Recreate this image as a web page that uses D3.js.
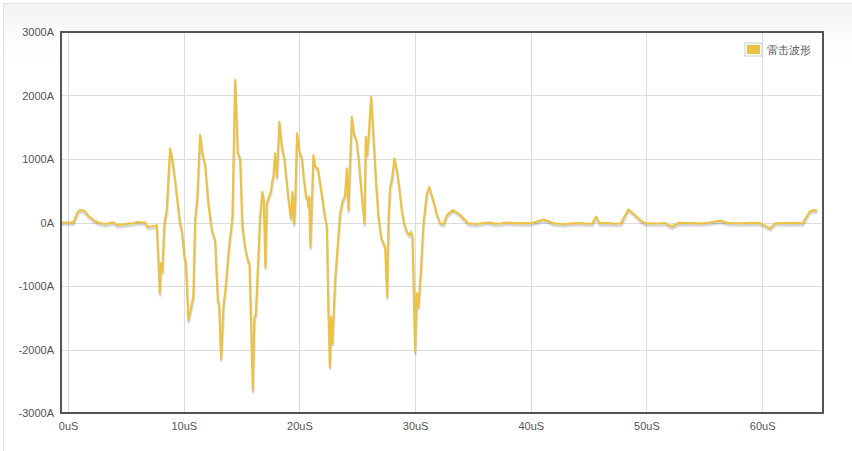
<!DOCTYPE html>
<html><head><meta charset="utf-8">
<script src="https://cdn.jsdelivr.net/npm/d3@7"></script>
<style>
html,body{margin:0;padding:0;background:#fff;width:852px;height:451px;overflow:hidden;}
#panel{position:absolute;left:3px;top:3px;width:860px;height:460px;border:1px solid #e2e2e2;background:linear-gradient(#f3f3f3 0px,#fbfbfb 30px,#ffffff 60px);}
svg{position:absolute;left:0;top:0;}
text{font-family:"Liberation Sans",Arial,sans-serif;}
</style></head>
<body><div id="panel"></div><svg id="chart" width="852" height="451"></svg>
<script>
const seriesName = "雷击波形";
const xTicks = [0,10,20,30,40,50,60];
const yTicks = [-3000,-2000,-1000,0,1000,2000,3000];
const timeUs = [-0.61,0.46,0.84,1.04,1.41,1.76,2.19,2.62,3.2,3.6,3.92,4.21,4.93,5.3,5.65,5.94,6.3,6.66,6.89,7.52,7.67,7.93,8.04,8.15,8.33,8.53,8.82,9.02,9.25,9.68,9.83,10.06,10.18,10.4,10.64,10.83,10.98,11.18,11.41,11.61,11.85,12.13,12.43,12.71,12.95,13.06,13.23,13.43,13.66,13.86,14.21,14.44,14.67,14.87,15.07,15.3,15.54,15.68,15.82,15.97,16.11,16.23,16.4,16.6,16.8,16.92,17.06,17.18,17.32,17.53,17.67,17.75,17.9,18.05,18.27,18.48,18.7,19.0,19.2,19.28,19.39,19.54,19.63,19.8,19.97,20.21,20.43,20.58,20.73,20.78,20.84,20.95,21.12,21.21,21.36,21.59,21.88,22.16,22.37,22.51,22.63,22.74,22.85,23.09,23.32,23.52,23.72,23.95,24.1,24.24,24.38,24.53,24.7,24.93,25.1,25.4,25.62,25.74,25.85,26.0,26.2,26.4,26.61,26.83,27.06,27.26,27.41,27.58,27.7,27.84,27.99,28.21,28.42,28.62,28.85,29.05,29.29,29.49,29.66,29.77,29.89,30.0,30.15,30.29,30.52,30.72,31.02,31.24,31.3,31.56,31.88,32.17,32.46,32.75,33.26,33.75,34.33,34.61,35.2,35.63,36.1,36.49,36.9,37.35,37.8,38.22,38.7,39.2,39.95,40.55,41.1,41.5,41.96,42.5,42.98,43.6,44.27,44.9,45.3,45.66,45.94,46.04,46.6,47.3,47.8,48.25,48.45,48.83,49.18,49.46,49.89,50.32,50.9,51.62,52.2,52.68,52.83,53.6,54.65,55.5,56.38,56.96,57.42,58.2,58.97,59.8,60.7,61.13,61.3,62.0,62.86,63.5,64.1,64.45,64.77,65.26];
const currentA = [0,0,170,197,186,107,39,0,-24,-10,5,-39,-24,-15,-13,8,0,3,-66,-55,-39,-1115,-638,-775,-8,197,1168,984,669,-13,-118,-539,-617,-1535,-1326,-1168,39,406,1378,1090,906,302,-118,-276,-1220,-1299,-2139,-1326,-957,-485,91,2244,1090,1011,-66,-381,-591,-643,-1587,-2638,-1483,-1457,-748,91,485,354,-696,302,381,485,669,721,1090,721,1587,1194,1011,460,145,66,485,-13,302,1405,1142,1011,617,406,354,249,406,-381,564,1063,879,854,512,145,-66,-1430,-2271,-1483,-1902,-906,-328,145,328,433,854,197,932,1666,1405,1299,1036,406,-13,1351,1063,1405,1981,1351,669,91,-224,-328,-381,-1168,39,564,669,1011,827,564,197,-13,-145,-197,-145,-224,-1168,-2035,-1115,-1326,-696,-13,460,564,512,354,134,-13,-24,118,197,145,39,-13,-24,-16,-2,0,-20,-16,-5,0,-12,-8,-13,16,47,24,-13,-20,-24,-10,-8,-18,-16,94,-13,-5,-8,-18,-13,145,208,145,91,39,-13,-10,-16,-8,-66,-13,-5,-8,-14,0,31,-5,-10,-13,-4,-8,-91,-13,-10,-8,-4,-13,170,197,189];

const L=61,R=823,T=32,B=413;
const svg=d3.select("#chart");
const x=d3.scaleLinear().domain([d3.min(timeUs),d3.max(timeUs)]).range([L,R]);
const y=d3.scaleLinear().domain([-3000,3000]).range([B,T]);

svg.append("rect").attr("x",L).attr("y",T).attr("width",R-L).attr("height",B-T).attr("fill","#fff");

// grid
const g=svg.append("g");
g.selectAll(".vg").data(xTicks).join("line")
  .attr("x1",d=>Math.round(x(d))+0.5).attr("x2",d=>Math.round(x(d))+0.5)
  .attr("y1",T).attr("y2",B).attr("stroke","#dcdcdc").attr("stroke-width",1);
g.selectAll(".hg").data(yTicks).join("line")
  .attr("y1",d=>Math.round(y(d))+0.5).attr("y2",d=>Math.round(y(d))+0.5)
  .attr("x1",L).attr("x2",R).attr("stroke","#dcdcdc").attr("stroke-width",1);

// axes labels via d3 axes
const yAxis=d3.axisLeft(y).tickValues(yTicks).tickSize(0).tickPadding(6).tickFormat(d=>d+"A");
const ya=svg.append("g").attr("transform",`translate(${L-1},0)`).call(yAxis);
ya.select(".domain").remove();
ya.selectAll("text").attr("font-size",11).attr("fill","#545454").attr("font-family","Liberation Sans, Arial, sans-serif");
const xAxis=d3.axisBottom(x).tickValues(xTicks).tickSize(0).tickPadding(9).tickFormat(d=>d+"uS");
const xa=svg.append("g").attr("transform",`translate(0,${B})`).call(xAxis);
xa.select(".domain").remove();
xa.selectAll("text").attr("font-size",11).attr("fill","#545454").attr("font-family","Liberation Sans, Arial, sans-serif");

// line with shadow
const data=timeUs.map((t,i)=>[t,currentA[i]]);
const clip=svg.append("clipPath").attr("id","clp").append("rect").attr("x",L).attr("y",T).attr("width",R-L).attr("height",B-T);
const line=d3.line().x(d=>x(d[0])).y(d=>y(d[1]));
const lg=svg.append("g").attr("clip-path","url(#clp)");
const a=Math.PI/18;
lg.append("path").datum(data).attr("d",line).attr("fill","none").attr("stroke","rgba(0,0,0,0.1)").attr("stroke-width",3)
  .attr("transform",`translate(${Math.sin(a)*2.5},${Math.cos(a)*2.5})`).attr("stroke-linejoin","round");
lg.append("path").datum(data).attr("d",line).attr("fill","none").attr("stroke","rgba(0,0,0,0.1)").attr("stroke-width",1.5)
  .attr("transform",`translate(${Math.sin(a)*1.75},${Math.cos(a)*1.75})`).attr("stroke-linejoin","round");
lg.append("path").datum(data).attr("d",line).attr("fill","none").attr("stroke","#edc240").attr("stroke-width",2).attr("stroke-linejoin","round");

// border
svg.append("rect").attr("x",L).attr("y",T).attr("width",R-L).attr("height",B-T)
  .attr("fill","none").attr("stroke","#545454").attr("stroke-width",2);

// legend
const lgd=svg.append("g").attr("transform","translate(745,43)");
lgd.append("rect").attr("x",0).attr("y",0).attr("width",17).attr("height",13).attr("fill","#fff").attr("stroke","#ccc").attr("stroke-width",1);
lgd.append("rect").attr("x",2).attr("y",2).attr("width",13).attr("height",9).attr("fill","#edc240");
lgd.append("text").attr("x",22).attr("y",11).attr("font-size",11).attr("fill","#545454")
  .attr("font-family","'Noto Sans CJK SC',sans-serif").text(seriesName);
</script></body></html>
